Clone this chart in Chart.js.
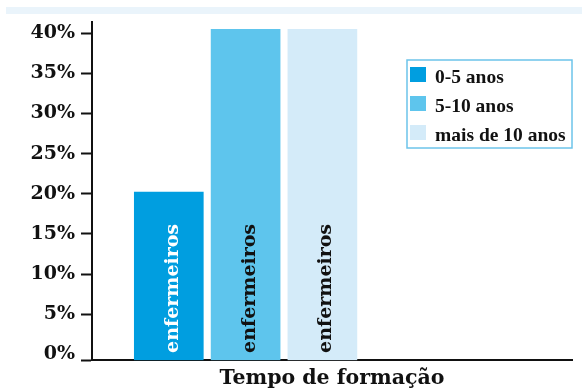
<!DOCTYPE html>
<html>
<head>
<meta charset="utf-8">
<script src="https://cdn.jsdelivr.net/npm/chart.js@4.4.1/dist/chart.umd.min.js"></script>
<style>
  html, body { margin: 0; padding: 0; background: #fff; }
  #wrap { position: relative; width: 582px; height: 392px; }
  #band { position: absolute; left: 6px; top: 7px; width: 576px; height: 7px; background: #eaf4fb; }
  #chart { position: absolute; left: 0; top: 0; }
</style>
</head>
<body>
<div id="wrap">
  <div id="band"></div>
  <canvas id="chart" width="582" height="392"></canvas>
</div>
<script>
// Nurses by years since graduation (% of respondents)
const groups = ['0-5 anos', '5-10 anos', 'mais de 10 anos'];
const shares = [20.2, 40.5, 40.5];
const barLabel = 'enfermeiros';
const yTicks = [0, 5, 10, 15, 20, 25, 30, 35, 40];
const axisTitle = 'Tempo de formação';

const fillColors = ['#009ee0', '#5ec5ed', '#d4ebf9'];
const labelColors = ['#ffffff', '#111111', '#111111'];

const Y_MIN = -0.75; // leaves a little room under the 0% label
const Y_MAX = 41.4;

const INK = '#111111';
const SERIF = '"DejaVu Serif", serif';

// vertical "enfermeiros" written inside every bar
const barTextPlugin = {
    id: 'barText',
    afterDatasetsDraw(chart) {
        const ctx = chart.ctx;
        chart.data.datasets.forEach((ds, i) => {
            const bar = chart.getDatasetMeta(i).data[0];
            if (!bar) return;
            ctx.save();
            ctx.translate(bar.x + 9, bar.base - 7);
            ctx.rotate(-Math.PI / 2);
            ctx.font = 'bold 19px ' + SERIF;
            ctx.fillStyle = labelColors[i];
            ctx.textAlign = 'left';
            ctx.textBaseline = 'alphabetic';
            ctx.fillText(barLabel, 0, 0);
            ctx.restore();
        });
    }
};

// framed legend in the upper right corner of the plot
const boxLegendPlugin = {
    id: 'boxLegend',
    afterDraw(chart) {
        const { ctx, chartArea } = chart;
        const w = 165, h = 88;
        const left = chartArea.right - w;
        const top = chartArea.top + 38;
        ctx.save();
        ctx.strokeStyle = '#6cc4ea';
        ctx.lineWidth = 1.5;
        ctx.strokeRect(left, top, w, h);
        ctx.font = 'bold 19.5px "Liberation Serif", serif';
        ctx.textAlign = 'left';
        ctx.textBaseline = 'alphabetic';
        chart.data.datasets.forEach((ds, i) => {
            const y = top + 7 + i * 29;
            ctx.fillStyle = ds.backgroundColor;
            ctx.fillRect(left + 3, y, 16, 15);
            ctx.fillStyle = INK;
            ctx.fillText(ds.label, left + 28, y + 16);
        });
        ctx.restore();
    }
};

new Chart(document.getElementById('chart'), {
    type: 'bar',
    data: {
        datasets: groups.map((g, i) => ({
            label: g,
            data: [{ x: i + 1, y: shares[i] }],
            backgroundColor: fillColors[i],
            base: Y_MIN,
            barThickness: 69,
            grouped: false
        }))
    },
    options: {
        responsive: false,
        animation: false,
        events: [],
        layout: { padding: { top: 22, right: 10, bottom: 0, left: 0 } },
        plugins: {
            legend: { display: false },
            tooltip: { enabled: false }
        },
        scales: {
            x: {
                type: 'linear',
                min: 0,
                max: 6.25,
                offset: false,
                grid: { display: false, drawTicks: false },
                ticks: { display: false },
                border: { display: true, color: INK, width: 2 },
                title: {
                    display: true,
                    text: axisTitle,
                    color: INK,
                    font: { family: SERIF, size: 20.5, weight: 'bold' },
                    padding: { top: 6, bottom: 1 }
                }
            },
            y: {
                min: Y_MIN,
                max: Y_MAX,
                afterBuildTicks: s => { s.ticks = [Y_MIN, ...yTicks].map(v => ({ value: v })); },
                afterFit: s => { s.width = 92; },
                grid: {
                    drawOnChartArea: false,
                    tickLength: 11,
                    tickWidth: 2,
                    tickColor: c => (c.tick && c.tick.value === 0) ? 'rgba(0,0,0,0)' : INK
                },
                border: { color: INK, width: 2 },
                ticks: {
                    padding: 6,
                    color: INK,
                    font: { family: SERIF, size: 19, weight: 'bold' },
                    callback: v => v === Y_MIN ? '' : v + '%'
                }
            }
        }
    },
    plugins: [barTextPlugin, boxLegendPlugin]
});
</script>
</body>
</html>
